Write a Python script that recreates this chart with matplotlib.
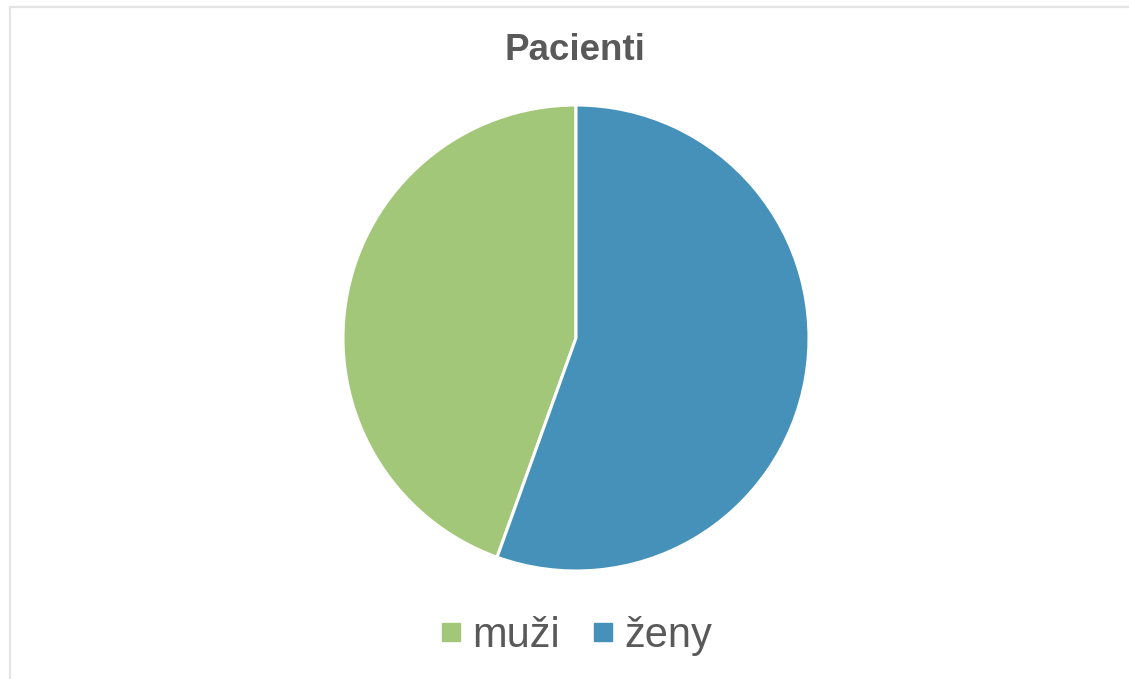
import matplotlib
matplotlib.use("Agg")
import matplotlib.pyplot as plt
from matplotlib.lines import Line2D
from matplotlib.patches import Rectangle

# data
labels = ["muži", "ženy"]
values = [44.5, 55.5]
colors = ["#A3C779", "#4591B9"]
title = "Pacienti"

W, H = 1129, 679
fig = plt.figure(figsize=(W / 100, H / 100), dpi=100)
plt.rcParams["font.family"] = ["Liberation Sans", "DejaVu Sans"]
text_color = "#595959"

# light chart-area frame
fig.patches.append(Rectangle((9.5 / W, -0.1), 1.2, (H - 7.5) / H + 0.1,
                             transform=fig.transFigure, fill=False,
                             edgecolor="#E4E4E4", linewidth=1.6))

# pie, centred at (576, 338) px with radius 233 px
cx, cy, r = 576, 338, 233
ax = fig.add_axes([(cx - r) / W, (H - cy - r) / H, 2 * r / W, 2 * r / H])
ax.pie(values, colors=colors, startangle=90, counterclock=True, radius=1,
       wedgeprops=dict(edgecolor="white", linewidth=2.2))
ax.set_xlim(-1, 1)
ax.set_ylim(-1, 1)
ax.set_aspect("equal")
ax.axis("off")

fig.text(575 / W, 1 - 50 / H, title, ha="center", va="center",
         fontsize=26.5, fontweight="bold", color=text_color)

handles = [Line2D([], [], marker="s", linestyle="", markersize=12.5,
                  markerfacecolor=c, markeredgecolor=c) for c in colors]
fig.legend(handles, labels, loc="center", bbox_to_anchor=(577 / W, 1 - 636 / H),
           ncol=2, frameon=False, fontsize=30, labelcolor=text_color,
           handlelength=0.45, handletextpad=0.3, columnspacing=0.8,
           borderpad=0, borderaxespad=0)

fig.savefig("out.png", dpi=100, facecolor="white")
